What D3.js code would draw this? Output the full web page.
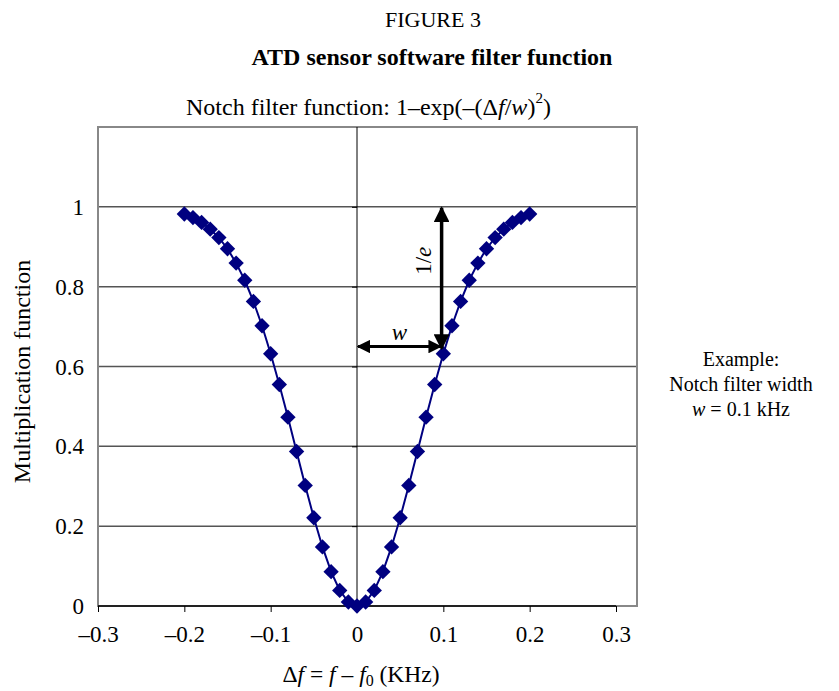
<!DOCTYPE html>
<html>
<head>
<meta charset="utf-8">
<script src="https://cdn.jsdelivr.net/npm/d3@7"></script>
<style>
body { margin: 0; background: #fff; }
svg text { font-family: "Liberation Serif", "Times New Roman", serif; fill: #000; }
</style>
</head>
<body>
<svg width="839" height="691"></svg>
<script>
// data
var dfValues = [-0.2, -0.19, -0.18, -0.17, -0.16, -0.15, -0.14, -0.13, -0.12, -0.11, -0.1,
  -0.09, -0.08, -0.07, -0.06, -0.05, -0.04, -0.03, -0.02, -0.01, 0,
  0.01, 0.02, 0.03, 0.04, 0.05, 0.06, 0.07, 0.08, 0.09, 0.1,
  0.11, 0.12, 0.13, 0.14, 0.15, 0.16, 0.17, 0.18, 0.19, 0.2];
var mulValues = [0.982, 0.973, 0.961, 0.944, 0.923, 0.895, 0.859, 0.816, 0.763, 0.702, 0.632,
  0.555, 0.473, 0.387, 0.302, 0.221, 0.148, 0.086, 0.039, 0.010, 0,
  0.010, 0.039, 0.086, 0.148, 0.221, 0.302, 0.387, 0.473, 0.555, 0.632,
  0.702, 0.763, 0.816, 0.859, 0.895, 0.923, 0.944, 0.961, 0.973, 0.982];
var xTicks = [-0.3, -0.2, -0.1, 0, 0.1, 0.2, 0.3];
var yTicks = [0, 0.2, 0.4, 0.6, 0.8, 1];
var wArrow = {x: 0.098, y: 0.65, top: 1};

var svg = d3.select('svg');
svg.append('rect').attr('width', 839).attr('height', 691).attr('fill', '#fff');

var pL = 98, pR = 637, pT = 127, pB = 606;
var x = d3.scaleLinear().domain([-0.3, 0.3]).range([pL, 616]);
var y = d3.scaleLinear().domain([0, 1.2]).range([pB, pT]);

function fmt(v) {
  if (v === 0) return '0';
  return (v < 0 ? '\u2013' : '') + Math.abs(v).toString();
}

// titles
svg.append('text').attr('x', 433).attr('y', 27).attr('text-anchor', 'middle')
  .style('font-size', '22px').text('FIGURE 3');
svg.append('text').attr('x', 432).attr('y', 65).attr('text-anchor', 'middle')
  .style('font-size', '24px').style('font-weight', 'bold').text('ATD sensor software filter function');

var sub = svg.append('text').attr('x', 186).attr('y', 115).style('font-size', '24px');
sub.append('tspan').text('Notch filter function: 1\u2013exp(\u2013(\u0394');
sub.append('tspan').style('font-style', 'italic').text('f');
sub.append('tspan').text('/');
sub.append('tspan').style('font-style', 'italic').text('w');
sub.append('tspan').text(')');
sub.append('tspan').attr('dy', -12).style('font-size', '15px').text('2');
sub.append('tspan').attr('dy', 12).text(')');

// gridlines
svg.append('g').selectAll('line').data(yTicks.filter(function(d) { return d > 0; }))
  .enter().append('line')
  .attr('x1', pL).attr('x2', pR)
  .attr('y1', function(d) { return y(d); }).attr('y2', function(d) { return y(d); })
  .attr('stroke', '#555').attr('stroke-width', 1.5);

// frame
svg.append('rect').attr('x', pL).attr('y', pT).attr('width', pR - pL).attr('height', pB - pT)
  .attr('fill', 'none').attr('stroke', '#888').attr('stroke-width', 2);

// y axis at x = 0
var yAxis = d3.axisLeft(y).tickValues(yTicks).tickSize(5).tickFormat('');
var gy = svg.append('g').attr('transform', 'translate(' + x(0) + ',0)').call(yAxis);
gy.select('.domain').remove();
gy.append('line').attr('x1', 0).attr('x2', 0).attr('y1', pT).attr('y2', pB)
  .attr('stroke', '#000').attr('stroke-width', 1);

// y tick labels at the left
svg.append('g').selectAll('text').data(yTicks).enter().append('text')
  .attr('x', 84).attr('y', function(d) { return y(d) + 8; })
  .attr('text-anchor', 'end').style('font-size', '23px')
  .text(fmt);

// x axis at y = 0
var xAxis = d3.axisBottom(x).tickValues(xTicks).tickSize(6).tickFormat(fmt);
var gx = svg.append('g').attr('transform', 'translate(0,' + y(0) + ')').call(xAxis);
gx.select('.domain').attr('stroke', '#000').attr('stroke-width', 1.5).attr('d', 'M' + pL + ',0H' + x(0.3));
gx.selectAll('.tick line').attr('stroke', '#000');
gx.selectAll('.tick text').attr('y', 20).attr('dy', '0.71em').attr('fill', '#000')
  .style('font-family', '"Liberation Serif", serif').style('font-size', '23px');

// series
var line = d3.line().x(function(d, i) { return x(dfValues[i]); }).y(function(d) { return y(d); });
svg.append('path').datum(mulValues).attr('d', line)
  .attr('fill', 'none').attr('stroke', '#000080').attr('stroke-width', 2);
svg.append('g').selectAll('path').data(mulValues).enter().append('path')
  .attr('d', d3.symbol().type(d3.symbolDiamond2).size(150))
  .attr('transform', function(d, i) { return 'translate(' + x(dfValues[i]) + ',' + y(d) + ')'; })
  .attr('fill', '#000080');

// annotation arrows
var defs = svg.append('defs');
defs.append('marker').attr('id', 'ah').attr('viewBox', '0 0 10 10').attr('refX', 9).attr('refY', 5)
  .attr('markerWidth', 4.5).attr('markerHeight', 4.5).attr('orient', 'auto-start-reverse')
  .attr('markerUnits', 'strokeWidth')
  .append('path').attr('d', 'M0,0L10,5L0,10Z').attr('fill', '#000');

svg.append('line')
  .attr('x1', x(0) + 1).attr('x2', x(wArrow.x) - 1)
  .attr('y1', y(wArrow.y)).attr('y2', y(wArrow.y))
  .attr('stroke', '#000').attr('stroke-width', 3)
  .attr('marker-start', 'url(#ah)').attr('marker-end', 'url(#ah)');
svg.append('line')
  .attr('x1', x(wArrow.x)).attr('x2', x(wArrow.x))
  .attr('y1', y(wArrow.y) + 2).attr('y2', y(wArrow.top) + 1)
  .attr('stroke', '#000').attr('stroke-width', 3.5)
  .attr('marker-start', 'url(#ah)').attr('marker-end', 'url(#ah)');

svg.append('text').attr('x', (x(0) + x(wArrow.x)) / 2).attr('y', y(wArrow.y) - 7)
  .attr('text-anchor', 'middle').style('font-size', '23px').style('font-style', 'italic').text('w');
var ie = svg.append('text').attr('transform', 'translate(' + (x(wArrow.x) - 11) + ',' + y((wArrow.y + wArrow.top) / 2 + 0.04) + ') rotate(-90)')
  .attr('text-anchor', 'middle').style('font-size', '23px');
ie.append('tspan').text('1/');
ie.append('tspan').style('font-style', 'italic').text('e');

// axis titles
svg.append('text').attr('transform', 'translate(30,' + ((pT + pB) / 2 + 5) + ') rotate(-90)')
  .attr('text-anchor', 'middle').style('font-size', '24px').text('Multiplication function');

var xt = svg.append('text').attr('x', 361).attr('y', 682).attr('text-anchor', 'middle').style('font-size', '23.5px');
xt.append('tspan').text('\u0394');
xt.append('tspan').style('font-style', 'italic').text('f');
xt.append('tspan').text(' = ');
xt.append('tspan').style('font-style', 'italic').text('f');
xt.append('tspan').text(' \u2013 ');
xt.append('tspan').style('font-style', 'italic').text('f');
xt.append('tspan').attr('dy', 4).style('font-size', '16px').text('0');
xt.append('tspan').attr('dy', -4).text(' (KHz)');

// side note
var note = svg.append('g').style('font-size', '20px').attr('text-anchor', 'middle');
note.append('text').attr('x', 741).attr('y', 366).text('Example:');
note.append('text').attr('x', 741).attr('y', 391).text('Notch filter width');
var n3 = note.append('text').attr('x', 741).attr('y', 416);
n3.append('tspan').style('font-style', 'italic').text('w');
n3.append('tspan').text(' = 0.1 kHz');
</script>
</body>
</html>
